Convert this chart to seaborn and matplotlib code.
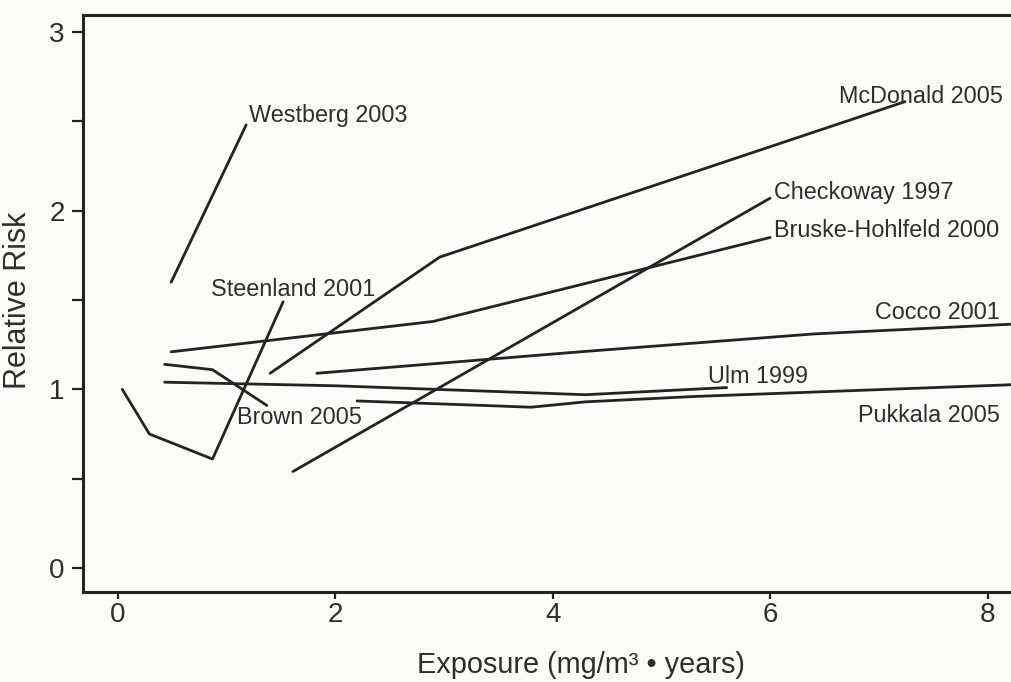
import matplotlib
matplotlib.use("Agg")
import matplotlib.pyplot as plt
import numpy as np
import pandas as pd
import seaborn as sns

# Exposure-response curves (relative risk vs cumulative silica exposure)
westberg_x = [0.49, 1.18]
westberg_y = [1.60, 2.48]

steenland_x = [0.04, 0.29, 0.87, 1.52]
steenland_y = [1.00, 0.75, 0.61, 1.49]

brown_x = [0.43, 0.87, 1.37]
brown_y = [1.14, 1.11, 0.91]

mcdonald_x = [1.40, 2.96, 7.24]
mcdonald_y = [1.09, 1.74, 2.61]

checkoway_x = [1.61, 6.00]
checkoway_y = [0.54, 2.07]

bruske_x = [0.49, 2.90, 6.00]
bruske_y = [1.21, 1.38, 1.85]

cocco_x = [1.83, 4.25, 6.40, 8.40]
cocco_y = [1.09, 1.21, 1.31, 1.37]

ulm_x = [0.43, 2.00, 4.30, 5.60]
ulm_y = [1.04, 1.02, 0.97, 1.01]

pukkala_x = [2.20, 3.36, 3.80, 4.30, 5.30, 8.40]
pukkala_y = [0.935, 0.91, 0.90, 0.93, 0.96, 1.03]

studies = {
    "Westberg 2003": (westberg_x, westberg_y),
    "Steenland 2001": (steenland_x, steenland_y),
    "Brown 2005": (brown_x, brown_y),
    "McDonald 2005": (mcdonald_x, mcdonald_y),
    "Checkoway 1997": (checkoway_x, checkoway_y),
    "Bruske-Hohlfeld 2000": (bruske_x, bruske_y),
    "Cocco 2001": (cocco_x, cocco_y),
    "Ulm 1999": (ulm_x, ulm_y),
    "Pukkala 2005": (pukkala_x, pukkala_y),
}

x_ticks = [0, 2, 4, 6, 8]
y_ticks = [0, 1, 2, 3]

rows = []
for name, (xs, ys) in studies.items():
    for order, (xv, yv) in enumerate(zip(xs, ys)):
        rows.append({"study": name, "order": order, "exposure": xv, "rr": yv})
df = pd.DataFrame(rows)

sns.set_theme(style="ticks")
plt.rcParams["font.family"] = ["Liberation Sans", "DejaVu Sans"]

bg = "#fbfbf8"
ink = "#232323"
text_ink = "#2e2e2e"

fig = plt.figure(figsize=(10.11, 6.82), dpi=100, facecolor=bg)
ax = fig.add_axes([0.082, 0.132, 0.9318, 0.846], facecolor=bg)

sns.lineplot(
    data=df, x="exposure", y="rr", units="study", estimator=None,
    sort=False, color=ink, linewidth=2.0, ax=ax, legend=False,
)

# study labels, placed beside the end of each curve
label_spots = {
    "Westberg 2003": (1.21, 2.535, "left"),
    "Steenland 2001": (0.86, 1.556, "left"),
    "Brown 2005": (1.10, 0.84, "left"),
    "McDonald 2005": (8.14, 2.64, "right"),
    "Checkoway 1997": (6.04, 2.10, "left"),
    "Bruske-Hohlfeld 2000": (6.04, 1.89, "left"),
    "Cocco 2001": (8.11, 1.43, "right"),
    "Ulm 1999": (5.43, 1.07, "left"),
    "Pukkala 2005": (8.11, 0.856, "right"),
}
for name, (tx, ty, ha) in label_spots.items():
    ax.text(tx, ty, name, ha=ha, va="center", fontsize=16.8, color=text_ink)

ax.set_xlim(-0.322, 8.344)
ax.set_ylim(-0.134, 3.095)
ax.set_xticks(x_ticks)
ax.set_yticks(y_ticks)
ax.set_yticks([0.5, 1.5, 2.5], minor=True)
ax.tick_params(axis="x", which="major", labelsize=20, colors=ink,
               labelcolor=text_ink, length=5, width=1.6, pad=2)
ax.tick_params(axis="y", which="major", labelsize=20, colors=ink,
               labelcolor=text_ink, length=8, width=1.6, pad=5)
ax.tick_params(axis="y", which="minor", length=8, width=1.6, colors=ink)

ax.set_xlabel("Exposure (mg/m³ • years)", fontsize=20.8, color=text_ink)
ax.set_ylabel("Relative Risk", fontsize=22, color=text_ink)
ax.xaxis.set_label_coords(0.529, -0.103)
ax.yaxis.set_label_coords(-0.053, 0.505)

for side in ["left", "top", "bottom"]:
    ax.spines[side].set_linewidth(2.2)
    ax.spines[side].set_color(ink)
ax.spines["right"].set_visible(False)

fig.savefig("out.png", dpi=100, facecolor=bg)
